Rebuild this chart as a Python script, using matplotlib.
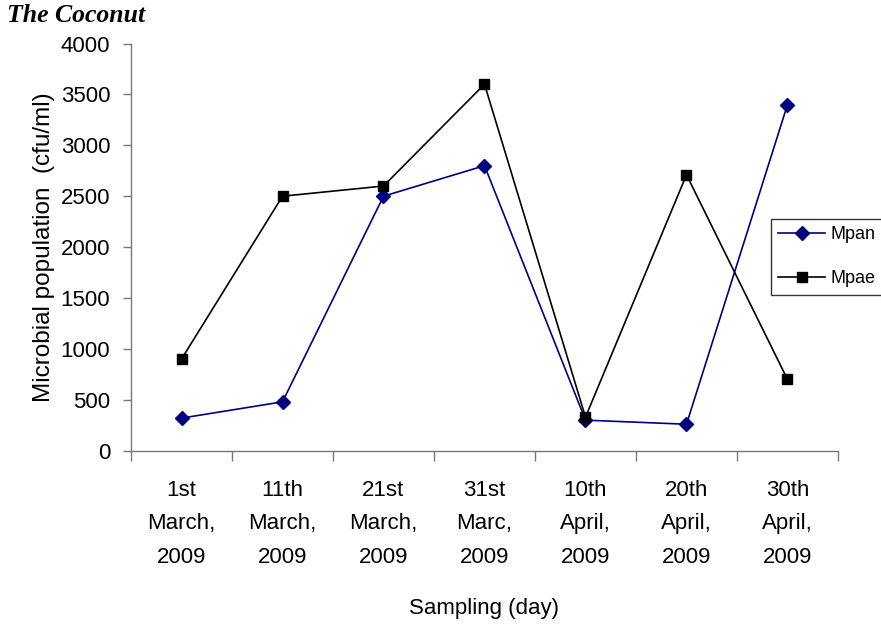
import matplotlib
matplotlib.use("Agg")
import matplotlib.pyplot as plt

categories = ["1st\nMarch,\n2009", "11th\nMarch,\n2009", "21st\nMarch,\n2009",
              "31st\nMarc,\n2009", "10th\nApril,\n2009", "20th\nApril,\n2009",
              "30th\nApril,\n2009"]
mpan = [320, 480, 2500, 2800, 300, 260, 3400]
mpae = [900, 2500, 2600, 3600, 330, 2710, 700]
yticks = [0, 500, 1000, 1500, 2000, 2500, 3000, 3500, 4000]

plt.rcParams['font.family'] = ['Liberation Sans', 'DejaVu Sans']

fig = plt.figure(figsize=(8.81, 6.25), dpi=100)
ax = fig.add_axes([131/881, 1-450.7/625, (838-131)/881, (450.7-43.5)/625])

x = list(range(len(categories)))
ax.plot(x, mpan, color='#000080', marker='D', markersize=7.5, linewidth=1.2,
        label='Mpan', clip_on=False)
ax.plot(x, mpae, color='black', marker='s', markersize=7.5, linewidth=1.2,
        label='Mpae', clip_on=False)

ax.set_xlim(-0.5, len(categories) - 0.5)
ax.set_ylim(0, 4000)
ax.set_yticks(yticks)
ax.set_yticklabels([str(v) for v in yticks], fontsize=16)
ax.set_xticks(x)
ax.set_xticklabels(categories, fontsize=16, linespacing=1.78)
ax.set_xticks([i - 0.5 for i in range(len(categories) + 1)], minor=True)
ax.tick_params(axis='x', which='major', length=0, pad=21)
ax.tick_params(axis='x', which='minor', length=7, width=1, color='#777777', direction='out')
ax.tick_params(axis='y', which='major', length=6, width=1, color='#777777', pad=9)

for s in ['top', 'right']:
    ax.spines[s].set_visible(False)
for s in ['left', 'bottom']:
    ax.spines[s].set_color('#777777')
    ax.spines[s].set_linewidth(1)

ax.set_ylabel('Microbial population  (cfu/ml)', fontsize=17.5, labelpad=4)
ax.set_xlabel('Sampling (day)', fontsize=16, labelpad=22)

fig.text(7/881, 1-4/625, 'The Coconut', family=['Liberation Serif', 'DejaVu Serif'],
         fontsize=18.5, fontweight='bold', fontstyle='italic', va='top', ha='left')

leg = fig.legend(loc='upper left', bbox_to_anchor=(771/881, 1-219/625),
                 fontsize=13, frameon=True, fancybox=False, edgecolor='black',
                 handlelength=2.6, handletextpad=0.3, borderpad=0.4, labelspacing=1.5,
                 borderaxespad=0)
leg.get_frame().set_linewidth(1)

fig.savefig('out.png', dpi=100)
